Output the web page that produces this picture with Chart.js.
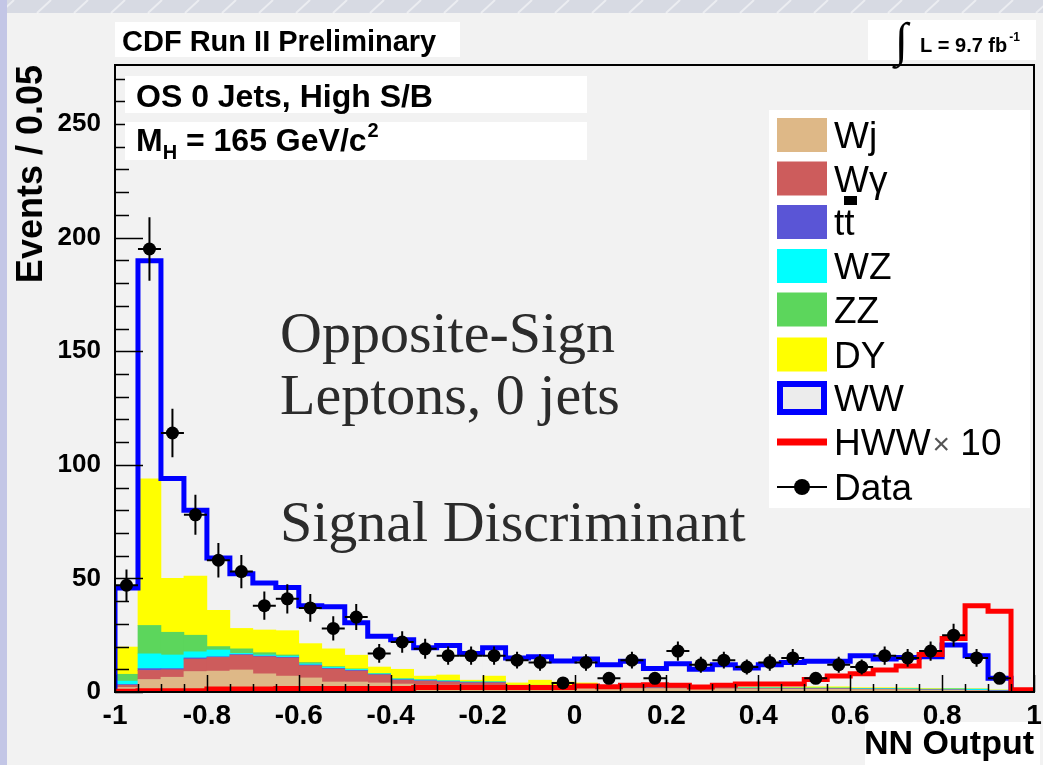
<!DOCTYPE html>
<html><head><meta charset="utf-8">
<script src="https://cdn.jsdelivr.net/npm/chart.js@4.4.1/dist/chart.umd.min.js"></script>
<style>html,body{margin:0;padding:0;background:#f2f2f2;}#wrap{width:1043px;height:765px;position:relative;}</style>
</head><body><div id="wrap"><canvas id="c"></canvas></div>
<script>
// ---- data ----
const binWidth = 0.05;
const binCenters = [-0.975,-0.925,-0.875,-0.825,-0.775,-0.725,-0.675,-0.625,-0.575,-0.525,-0.475,-0.425,-0.375,-0.325,-0.275,-0.225,-0.175,-0.125,-0.075,-0.025,0.025,0.075,0.125,0.175,0.225,0.275,0.325,0.375,0.425,0.475,0.525,0.575,0.625,0.675,0.725,0.775,0.825,0.875,0.925,0.975];
const Wj     = [2,5.5,6.5,9,9.2,9.7,8,7,6.2,4.4,4.4,4,3.5,3,3,2.8,2.8,2,2,1.8,1.8,1.5,1.5,1.5,1.5,1.4,1.4,1.3,1.3,1.2,1.2,1.2,1,1,1,0.8,0.8,0.6,0.3,0];
const Wgamma = [1,4,3.3,5.5,6,6.5,7.5,8,5.4,5.7,4.8,3.5,1.7,1.8,1.4,1.2,1.2,0.6,0.6,0.5,0.5,0.4,0.4,0.3,0.3,0.3,0.3,0.2,0.2,0.2,0.2,0.2,0.2,0.2,0.1,0.1,0.1,0.1,0.1,0];
const ttbar  = [0.3,0.8,0.5,0.5,0.3,0.3,0.3,0.3,0.3,0.3,0.3,0.2,0.2,0.2,0.2,0.2,0.2,0.1,0.1,0.1,0.1,0.1,0.1,0.1,0.1,0.1,0.1,0.1,0.1,0.1,0.1,0.1,0.1,0.1,0.1,0.1,0.1,0.1,0.2,0];
const WZ     = [1.5,6.5,6,2.7,3,0.5,0.5,0.5,0.5,0.5,0.4,0.3,0.3,0.3,0.3,0.2,0.2,0.2,0.2,0.2,0.2,0.2,0.2,0.2,0.2,0.2,0.2,0.2,0.2,0.2,0.2,0.2,0.2,0.2,0.2,0.2,0.3,0.4,0.1,0];
const ZZ     = [3,12.5,10,7.3,1.5,2,1,0.5,0.6,0.3,0.3,0.2,0.2,0.2,0.2,0.2,0.2,0.1,0.1,0.1,0.1,0.1,0.1,0.1,0.1,0.1,0.1,0.1,0.1,0.1,0.1,0.1,0.1,0.1,0.1,0.1,0.1,0.1,0.1,0];
const DY     = [12,64.5,23.7,26,16,9,10,10.7,8.3,7.8,6,2.8,4.1,1.5,2.4,0.6,2.4,1,2.2,1.7,1.3,0.5,0.5,0.4,0.4,0.3,0.3,0.3,0.3,0.3,0.5,0.5,0.3,0.3,0.3,0.2,0.2,0.1,0.1,0];
const WW     = [26,96,44,29,23,24,20.7,19,16.7,18.5,14.3,13.5,13,12.5,13,11.8,12.5,11,10.3,9.3,10.5,9.2,10.7,7.7,9.8,7.6,9.6,8.4,9.8,10.9,11.2,11.2,14.1,12.6,13.4,14,19.1,14.6,5.1,0];
const HWWx10 = [0.3,0.5,0.5,0.5,1.3,1.3,1.3,1.5,1.5,1.5,1.5,1.5,1.5,2,2,2,2,2,2,2,2.6,2.3,3,3.2,3,2.2,3,3.5,3.5,3.5,5.5,7,8,9.7,11.5,16.5,23.5,38,35.5,1];
const dataCounts = [47,195,114,78,58,53,38,41,37,28,33,17,22,19,16,16,16,14,13,4,13,6,14,6,18,12,14,11,13,15,6,12,11,16,15,18,25,15,6,null];
const dataErrors = [6.9,14,10.7,8.8,7.6,7.3,6.2,6.4,6.1,5.3,5.7,4.1,4.7,4.4,4,4,4,3.7,3.6,2,3.6,2.4,3.7,2.4,4.2,3.5,3.7,3.3,3.6,3.9,2.4,3.5,3.3,4,3.9,4.2,5,3.9,2.4,null];
const xTickLabels = ['-1','-0.8','-0.6','-0.4','-0.2','0','0.2','0.4','0.6','0.8','1'];
const yTickLabels = ['0','50','100','150','200','250'];

// ---- helpers ----
const FONT = '"Liberation Sans", Arial, sans-serif';
const BG = '#f2f2f2';
const stack = [Wj, Wgamma, ttbar, WZ, ZZ, DY, WW];
const totals = binCenters.map((_, i) => stack.reduce((s, a) => s + a[i], 0));
function stepPoints(vals) {
  const edges = binCenters.map(c => c - binWidth / 2);
  const last = binCenters[binCenters.length - 1] + binWidth / 2;
  const pts = [{x: edges[0], y: 0}];
  vals.forEach((v, i) => pts.push({x: edges[i], y: v}));
  pts.push({x: last, y: vals[vals.length - 1]});
  pts.push({x: last, y: 0});
  return pts;
}
const asXY = arr => binCenters.map((c, i) => ({x: c, y: arr[i]}));
function barDs(label, arr, color) {
  return {type: 'bar', label, data: asXY(arr), backgroundColor: color, borderWidth: 0,
    barPercentage: 1, categoryPercentage: 1, order: 10, yAxisID: 'y'};
}

const datasets = [
  barDs('Wj', Wj, '#deb887'),
  barDs('Wγ', Wgamma, '#cd5c5c'),
  barDs('tt̄', ttbar, '#5a55d6'),
  barDs('WZ', WZ, '#00ffff'),
  barDs('ZZ', ZZ, '#5cd65c'),
  barDs('DY', DY, '#ffff00'),
  barDs('WW', WW, BG),
  {type: 'line', label: 'WW outline', data: stepPoints(totals), borderColor: '#0000ff', borderWidth: 5,
   stepped: 'before', pointRadius: 0, fill: false, order: 3, yAxisID: 'y2', borderJoinStyle: 'miter'},
  {type: 'line', label: 'HWW× 10', data: stepPoints(HWWx10), borderColor: '#ff0000', borderWidth: 5,
   stepped: 'before', pointRadius: 0, fill: false, order: 2, yAxisID: 'y2', borderJoinStyle: 'miter'},
  {type: 'line', label: 'Data', data: binCenters.map((c, i) => ({x: c, y: dataCounts[i]})), showLine: false,
   pointRadius: 6.5, pointBackgroundColor: '#000', pointBorderColor: '#000', pointBorderWidth: 0, order: 1, yAxisID: 'y2'}
];

const bgPlugin = {
  id: 'bgPlugin',
  beforeDraw(chart) {
    const c = chart.ctx; c.save();
    c.fillStyle = BG; c.fillRect(0, 0, 1043, 765);
    c.fillStyle = '#d7dae3'; c.fillRect(0, 0, 1043, 13);
    c.strokeStyle = 'rgba(255,255,255,0.5)'; c.lineWidth = 2;
    for (let k = 0; k < 1043; k += 37) { c.beginPath(); c.moveTo(k, 13); c.lineTo(k + 14, 0); c.stroke(); }
    c.fillStyle = '#c3c6e6'; c.fillRect(0, 0, 7, 765);
    c.fillStyle = '#ffffff'; c.fillRect(865, 722, 175, 43);
    c.restore();
  },
  beforeDatasetDraw(chart, args) {
    if (chart.data.datasets[args.index].label !== 'Data') return;
    const c = chart.ctx, x = chart.scales.x, y = chart.scales.y2;
    c.save(); c.strokeStyle = '#000'; c.lineWidth = 2;
    binCenters.forEach((cx, i) => {
      const v = dataCounts[i]; if (v === null) return;
      const e = dataErrors[i];
      const px = x.getPixelForValue(cx), py = y.getPixelForValue(v);
      c.beginPath();
      c.moveTo(px, y.getPixelForValue(v - e)); c.lineTo(px, y.getPixelForValue(v + e));
      c.moveTo(x.getPixelForValue(cx - binWidth / 2), py); c.lineTo(x.getPixelForValue(cx + binWidth / 2), py);
      c.stroke();
    });
    c.restore();
  },
  afterDatasetsDraw(chart) {
    const c = chart.ctx, a = chart.chartArea, x = chart.scales.x, y = chart.scales.y;
    c.save(); c.strokeStyle = '#000'; c.lineWidth = 1.5;
    c.beginPath();
    for (let k = 0; k <= 40; k++) {
      const v = -1 + k * 0.05; const px = Math.round(x.getPixelForValue(v)) + 0.5;
      const len = (k % 4 === 0) ? 17 : 8;
      c.moveTo(px, a.bottom); c.lineTo(px, a.bottom - len);
    }
    for (let v = 0; v <= 270; v += 10) {
      const py = Math.round(y.getPixelForValue(v)) + 0.5;
      const len = (v % 50 === 0) ? 28 : 14;
      c.moveTo(a.left, py); c.lineTo(a.left + len, py);
    }
    c.stroke();
    c.lineWidth = 2;
    c.strokeRect(a.left, a.top, a.right - a.left, a.bottom - a.top);
    c.restore();
  },
  afterDraw(chart) {
    const c = chart.ctx; c.save();
    // header boxes
    c.fillStyle = '#fff';
    c.fillRect(115, 22, 345, 35);
    c.fillRect(868, 20, 168, 40);
    c.fillRect(125, 76, 462, 37);
    c.fillRect(125, 122, 462, 38);
    c.fillStyle = '#000'; c.textBaseline = 'alphabetic'; c.textAlign = 'left';
    c.font = 'bold 29px ' + FONT; c.fillText('CDF Run II Preliminary', 122, 51);
    c.font = '48px "Liberation Serif", serif'; c.fillText('∫', 895, 56);
    c.font = 'bold 20px ' + FONT; c.fillText('L = 9.7 fb', 920, 52);
    let w = c.measureText('L = 9.7 fb').width;
    c.font = 'bold 12px ' + FONT; c.fillText('-1', 920 + w + 2, 41);
    c.font = 'bold 32px ' + FONT; c.fillText('OS 0 Jets, High S/B', 136, 107);
    c.fillText('M', 136, 151); let xx = 136 + c.measureText('M').width;
    c.font = 'bold 20px ' + FONT; c.fillText('H', xx, 159); xx += c.measureText('H').width;
    c.font = 'bold 32px ' + FONT; c.fillText(' = 165 GeV/c', xx, 151); xx += c.measureText(' = 165 GeV/c').width;
    c.font = 'bold 20px ' + FONT; c.fillText('2', xx + 1, 137);
    // big serif annotation
    c.fillStyle = '#2b2b2b'; c.font = '58px "Liberation Serif", "Times New Roman", serif';
    c.fillText('Opposite-Sign', 280, 352);
    c.fillText('Leptons, 0 jets', 280, 414);
    c.fillText('Signal Discriminant', 280, 541);
    // legend
    c.fillStyle = '#fff'; c.fillRect(769, 110, 261, 398);
    const rows = [135, 178.5, 222, 266, 309.5, 354.5, 398, 442, 487];
    const sx = 777, sw = 50, sh = 34;
    const fills = datasets.slice(0, 6);
    c.font = '37px ' + FONT;
    fills.forEach((d, i) => {
      c.fillStyle = d.backgroundColor; c.fillRect(sx, rows[i] - sh / 2, sw, sh);
      c.fillStyle = '#000';
      if (d.label === 'tt̄') { c.fillText('tt', 834, rows[i] + 13); c.fillRect(844, 196, 13, 9); }
      else c.fillText(d.label, 834, rows[i] + 13);
    });
    // WW
    c.fillStyle = '#ececec'; c.fillRect(sx, rows[6] - 17, sw, 34);
    c.strokeStyle = '#0000ff'; c.lineWidth = 6; c.strokeRect(sx + 3, rows[6] - 14, sw - 6, 28);
    c.fillStyle = '#000'; c.fillText('WW', 834, rows[6] + 13);
    // HWW
    c.fillStyle = '#ff0000'; c.fillRect(sx, rows[7] - 3.5, sw, 7);
    c.fillStyle = '#000'; c.fillText('HWW', 834, rows[7] + 13);
    let hw = c.measureText('HWW').width;
    c.font = '30px ' + FONT; c.fillStyle = '#555'; c.fillText('×', 834 + hw + 2, rows[7] + 12);
    let mw = c.measureText('×').width;
    c.font = '37px ' + FONT; c.fillStyle = '#000'; c.fillText(' 10', 834 + hw + 2 + mw, rows[7] + 13);
    // Data
    c.strokeStyle = '#000'; c.lineWidth = 2; c.beginPath(); c.moveTo(sx, rows[8]); c.lineTo(sx + sw, rows[8]); c.stroke();
    c.beginPath(); c.arc(sx + sw / 2, rows[8], 8, 0, Math.PI * 2); c.fill();
    c.fillText('Data', 834, rows[8] + 13);
    c.restore();
  }
};

new Chart(document.getElementById('c'), {
  type: 'bar',
  data: {datasets},
  plugins: [bgPlugin],
  options: {
    responsive: true, maintainAspectRatio: false, animation: false, events: [],
    layout: {padding: {left: 0, top: 65, right: 9, bottom: 0}},
    plugins: {legend: {display: false}, tooltip: {enabled: false}},
    scales: {
      x: {type: 'linear', min: -1, max: 1, offset: false, stacked: true,
          grid: {display: false, drawTicks: false, offset: false}, border: {display: false},
          ticks: {stepSize: 0.2, color: '#000', padding: 7, maxRotation: 0, autoSkip: false,
                  font: {family: FONT, size: 28, weight: 'bold'},
                  callback: (v) => xTickLabels[Math.round((v + 1) / 0.2)]},
          title: {display: true, text: 'NN Output', align: 'end', color: '#000',
                  font: {family: FONT, size: 34, weight: 'bold'}, padding: {top: 0, bottom: 0}},
          afterFit(s) { s.height = 73; s.paddingLeft = 0; s.paddingRight = 0; }},
      y: {type: 'linear', min: 0, max: 276, stacked: true,
          grid: {display: false, drawTicks: false}, border: {display: false},
          ticks: {stepSize: 50, includeBounds: false, color: '#000', padding: 14,
                  font: {family: FONT, size: 26, weight: 'bold'},
                  callback: (v) => yTickLabels[Math.round(v / 50)]},
          title: {display: true, text: 'Events / 0.05', align: 'end', color: '#000',
                  font: {family: FONT, size: 36, weight: 'bold'}, padding: {top: 10, bottom: 0}},
          afterFit(s) { s.width = 115; }},
      y2: {type: 'linear', min: 0, max: 276, display: false}
    }
  }
});
</script></body></html>
